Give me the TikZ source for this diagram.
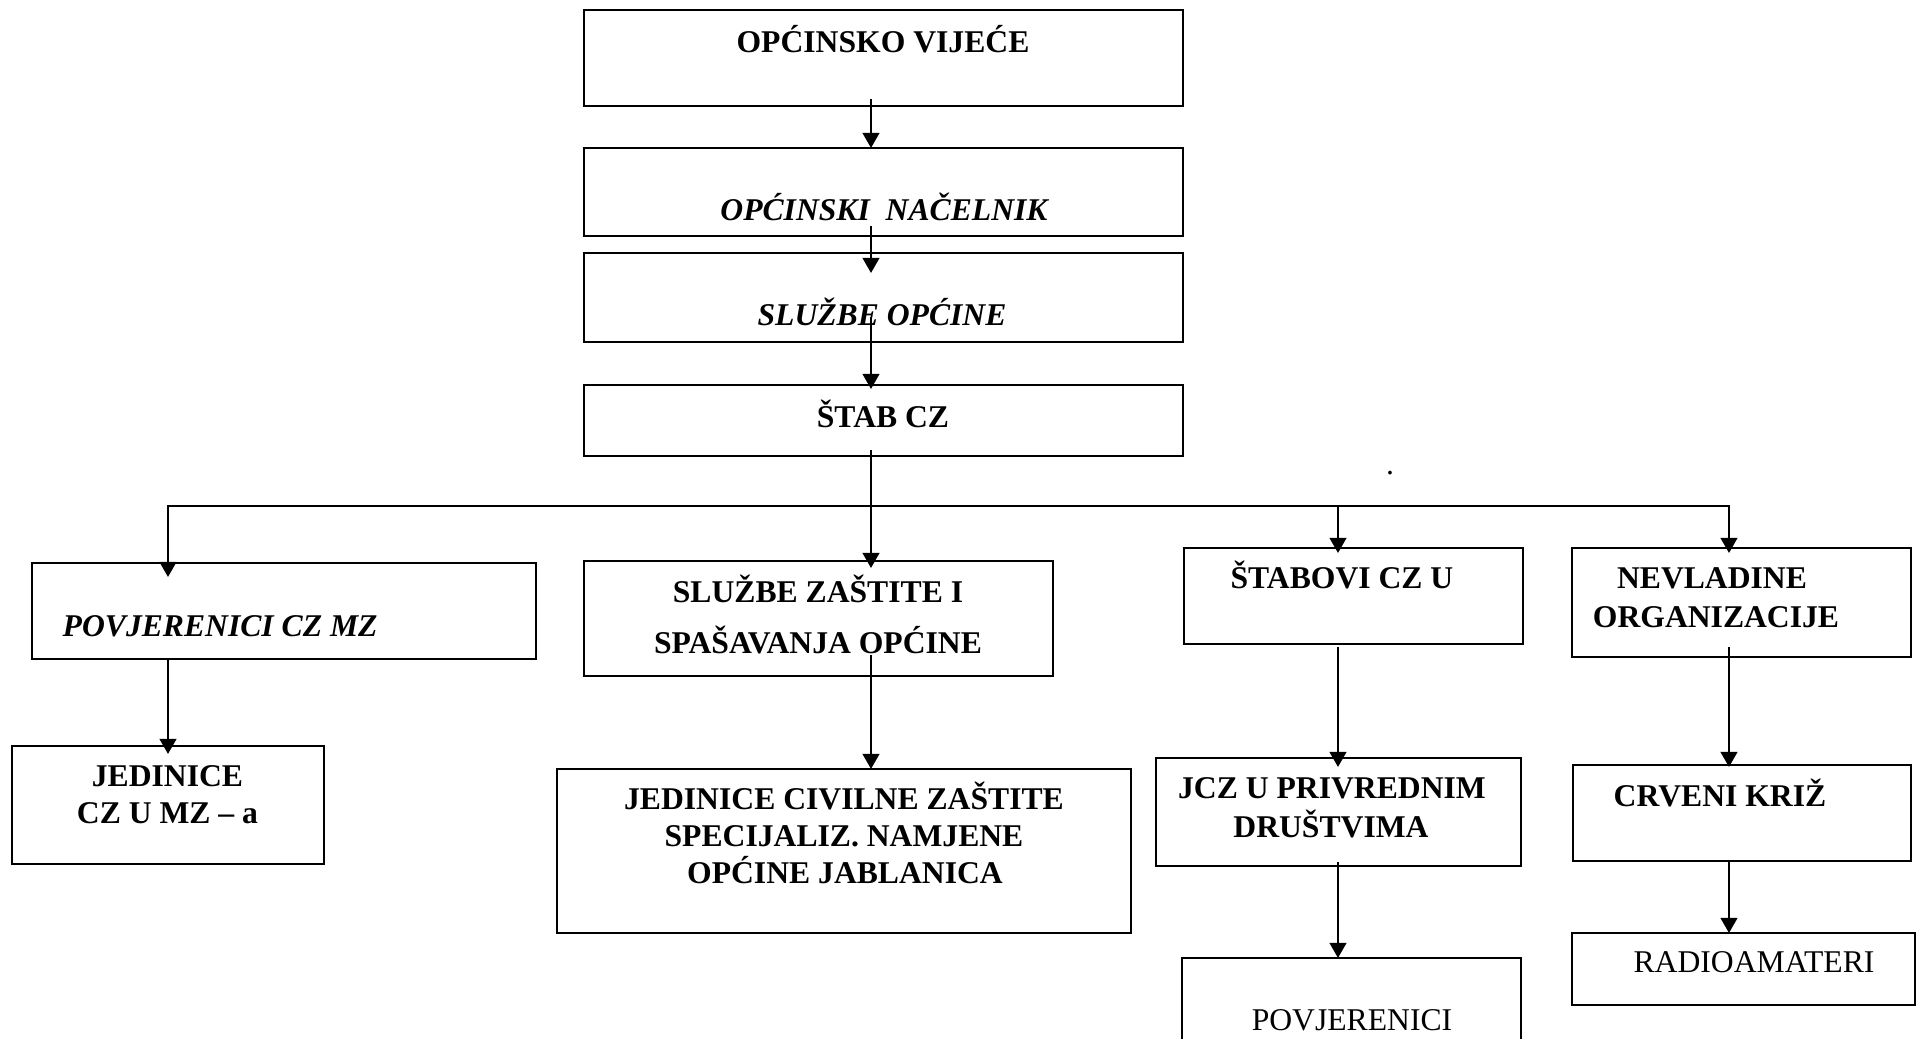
\documentclass[tikz,border=0pt]{standalone}
\usepackage{fontspec}
\setmainfont{Liberation Serif}
\usetikzlibrary{arrows.meta,calc}
\tikzset{
  box/.style={draw, line width=0.68pt, rectangle, inner sep=0pt, outer sep=0pt},
  con/.style={line width=0.68pt},
  arr/.style={con, -{Triangle[length=1.5mm,width=1.65mm]}},
  darr/.style={con, {Triangle[length=1.5mm,width=1.65mm]}-{Triangle[length=1.5mm,width=1.65mm]}},
  bt/.style={anchor=base, inner sep=0pt, font=\fontsize{9}{10.8}\selectfont\bfseries},
  bit/.style={bt, font=\fontsize{9}{10.8}\selectfont\bfseries\itshape},
  rt/.style={anchor=base, inner sep=0pt, font=\fontsize{9}{10.8}\selectfont},
}
\begin{document}
\begin{tikzpicture}[x=0.01cm, y=-0.01cm]
\useasboundingbox (0,0) rectangle (1917,1038);
\clip (0,0) rectangle (1917,1038);

% boxes
\node[box, minimum width=5.99cm, minimum height=0.96cm] (b1) at (883.5,58) {};
\node[box, minimum width=5.99cm, minimum height=0.88cm] (b2) at (883.5,192) {};
\node[box, minimum width=5.99cm, minimum height=0.89cm] (b3) at (883.5,297.5) {};
\node[box, minimum width=5.99cm, minimum height=0.71cm] (b4) at (883.5,420.5) {};
\node[box, minimum width=5.04cm, minimum height=0.96cm] (p) at (284,611) {};
\node[box, minimum width=3.12cm, minimum height=1.18cm] (j) at (168,805) {};
\node[box, minimum width=4.69cm, minimum height=1.15cm] (s) at (818.5,618.5) {};
\node[box, minimum width=5.74cm, minimum height=1.64cm] (jc) at (844,851) {};
\node[box, minimum width=3.39cm, minimum height=0.96cm] (st) at (1353.5,596) {};
\node[box, minimum width=3.39cm, minimum height=1.09cm] (nv) at (1741.5,602.5) {};
\node[box, minimum width=3.65cm, minimum height=1.08cm] (jcz) at (1338.5,812) {};
\node[box, minimum width=3.39cm, minimum height=1.12cm] (pov) at (1351.5,1014) {};
\node[box, minimum width=3.38cm, minimum height=0.96cm] (cr) at (1742,813) {};
\node[box, minimum width=3.43cm, minimum height=0.72cm] (ra) at (1743.5,969) {};

% texts
\node[bt] (t1) at (883,52) {OPĆINSKO VIJEĆE};
\node[bit] (t2) at (884,220) {OPĆINSKI\ \ NAČELNIK};
\node[bit] (t3) at (882,325) {SLUŽBE OPĆINE};
\node[bt] (t4) at (883,427) {ŠTAB CZ};
\node[bit, anchor=base west] (tp) at (62,636) {POVJERENICI CZ MZ};
\node[bt] (tj1) at (167.5,786) {JEDINICE};
\node[bt] (tj2) at (167.5,823) {CZ U MZ – a};
\node[bt] (ts1) at (818,602) {SLUŽBE ZAŠTITE I};
\node[bt] (ts2) at (818,653) {SPAŠAVANJA OPĆINE};
\node[bt] (tjc1) at (844,809) {JEDINICE CIVILNE ZAŠTITE};
\node[bt] (tjc2) at (844,846) {SPECIJALIZ. NAMJENE};
\node[bt] (tjc3) at (845,883) {OPĆINE JABLANICA};
\node[bt] (tst) at (1342,588) {ŠTABOVI CZ U};
\node[bt] (tnv1) at (1712,588) {NEVLADINE};
\node[bt] (tnv2) at (1716,627) {ORGANIZACIJE};
\node[bt] (tjcz1) at (1332,798) {JCZ U PRIVREDNIM};
\node[bt] (tjcz2) at (1331,837) {DRUŠTVIMA};
\node[bt] (tcr) at (1720,806) {CRVENI KRIŽ};
\node[rt] (tra) at (1754,972) {RADIOAMATERI};
\node[rt] (tpov) at (1352,1030) {POVJERENICI};
\node[rt] (dot) at (1390,474) {.};

% connector coordinates
\coordinate (ax) at (871,0);
\coordinate (busL) at (168,506);
\coordinate (busS) at (1338,506);
\coordinate (busR) at (1729,506);

% main column
\draw[arr] ($(b1.south -| ax)+(0,-7)$) -- (b2.north -| ax);
\draw[arr] ($(b2.south -| ax)+(0,-10)$) -- ($(b3.north -| ax)+(0,20)$);
\draw[arr] ($(b3.south -| ax)+(0,-25)$) -- ($(b4.north -| ax)+(0,4)$);
\draw[arr] ($(b4.south -| ax)+(0,-6)$) -- ($(s.north -| ax)+(0,7)$);
\draw[arr] ($(s.south -| ax)+(0,-21)$) -- (jc.north -| ax);

% bus
\draw[darr] ($(p.north -| busL)+(0,14)$) -- (busL) -- (busR) -- ($(nv.north -| busR)+(0,5)$);
\draw[arr] (busS) -- ($(st.north -| busS)+(0,5)$);

% branches
\draw[arr] (p.south -| busL) -- ($(j.north -| busL)+(0,8)$);
\draw[arr] ($(st.south -| busS)+(0,3)$) -- ($(jcz.north -| busS)+(0,9)$);
\draw[arr] ($(jcz.south -| busS)+(0,-4)$) -- (pov.north -| busS);
\draw[arr] ($(nv.south -| busR)+(0,-10)$) -- ($(cr.north -| busR)+(0,2)$);
\draw[arr] (cr.south -| busR) -- (ra.north -| busR);
\end{tikzpicture}
\end{document}
